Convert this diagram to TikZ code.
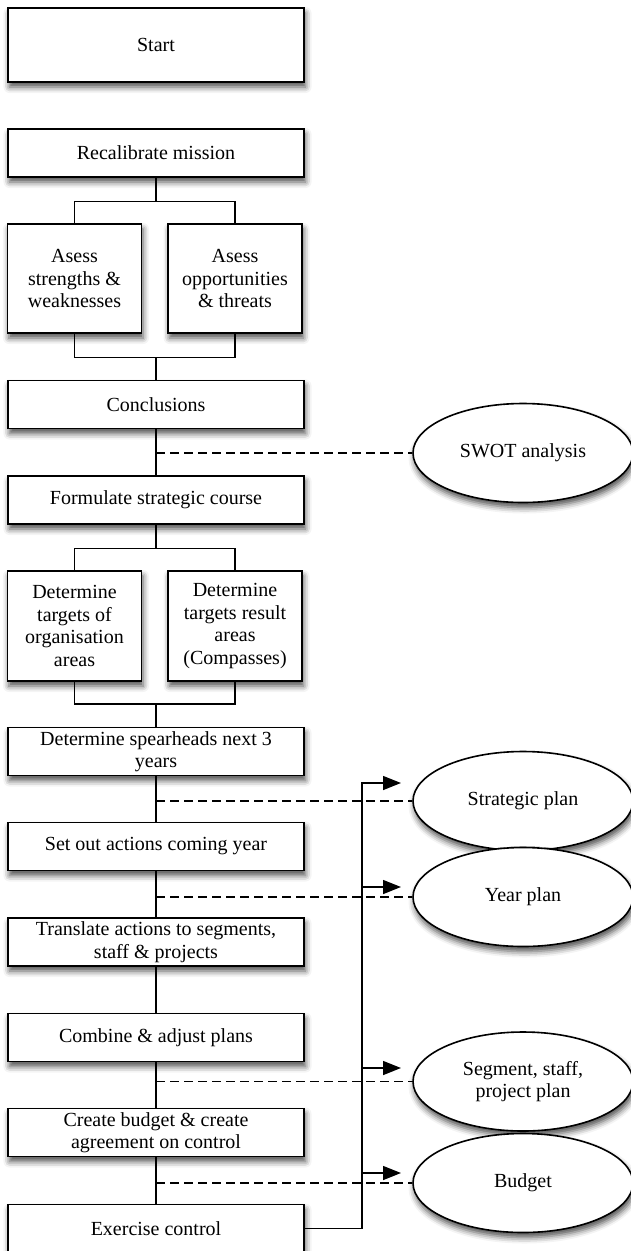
\documentclass[tikz,border=0pt]{standalone}
\usepackage{fontspec}
\setmainfont{Liberation Serif}
\usetikzlibrary{shapes.geometric,arrows.meta,shadows.blur}
\begin{document}
\begin{tikzpicture}[x=1pt,y=-1pt,
  shade/.style={blur shadow={shadow xshift=1.5pt,shadow yshift=-5pt,shadow blur radius=6pt,shadow opacity=70}},
  box/.style={draw=black,line width=1.6pt,fill=white,shade,align=center,inner sep=2pt,
    font=\fontsize{20}{22.5}\selectfont},
  mainbox/.style={box,minimum width=296pt,minimum height=48pt},
  halfbox/.style={box,minimum width=134pt,minimum height=109pt},
  plan/.style={ellipse,draw=black,line width=1.6pt,fill=white,shade,align=center,inner sep=0pt,
    minimum width=220pt,minimum height=99pt,font=\fontsize{20}{22.5}\selectfont},
  link/.style={line width=1.4pt},
  dlink/.style={line width=1.4pt,dash pattern=on 8.5pt off 5.5pt},
  arr/.style={line width=1.4pt,-{Triangle[length=18pt,width=14pt]}}]
\useasboundingbox (0,0) rectangle (631,1251);
% main column
\node[mainbox,minimum height=74pt] (start) at (156,45) {Start};
\node[mainbox] (recal) at (156,153) {Recalibrate mission};
\node[halfbox] (asl) at (74.5,278.5) {Asess\\strengths \&\\weaknesses};
\node[halfbox] (asr) at (235,278.5) {Asess\\opportunities\\\& threats};
\node[mainbox] (concl) at (156,404.5) {Conclusions};
\node[mainbox] (form) at (156,500) {Formulate strategic course};
\node[halfbox,minimum height=110pt] (dtl) at (74.5,626) {Determine\\targets of\\organisation\\areas};
\node[halfbox,minimum height=110pt] (dtr) at (235,626) {Determine\\targets result\\areas\\(Compasses)};
\node[mainbox] (spear) at (156,751.5) {Determine spearheads next 3\\years};
\node[mainbox] (setout) at (156,846.5) {Set out actions coming year};
\node[mainbox] (transl) at (156,942) {Translate actions to segments,\\staff \& projects};
\node[mainbox] (comb) at (156,1037.5) {Combine \& adjust plans};
\node[mainbox] (budg) at (156,1132.5) {Create budget \& create\\agreement on control};
\node[mainbox] (exer) at (156,1228.5) {Exercise control};
% plans
\node[plan] (swot) at (523,453) {SWOT analysis};
\node[plan] (strat) at (523,801) {Strategic plan};
\node[plan] (year) at (523,897) {Year plan};
\node[plan] (seg) at (523,1081.5) {Segment, staff,\\project plan};
\node[plan] (bud) at (523,1183) {Budget};
% tree connectors
\draw[link] (recal.south) -- ++(0,23.5) -| (asl.north);
\draw[link] (recal.south) -- ++(0,23.5) -| (asr.north);
\draw[link] (asl.south) -- ++(0,23.5) -| (concl.north);
\draw[link] (asr.south) -- ++(0,23.5) -| (concl.north);
\draw[link] (concl.south) -- (form.north);
\draw[link] (form.south) -- ++(0,23.5) -| (dtl.north);
\draw[link] (form.south) -- ++(0,23.5) -| (dtr.north);
\draw[link] (dtl.south) -- ++(0,22) -| (spear.north);
\draw[link] (dtr.south) -- ++(0,22) -| (spear.north);
\draw[link] (spear.south) -- (setout.north);
\draw[link] (setout.south) -- (transl.north);
\draw[link] (transl.south) -- (comb.north);
\draw[link] (comb.south) -- (budg.north);
\draw[link] (budg.south) -- (exer.north);
% dashed links
\draw[dlink] (concl.south |- swot.west) -- (swot.west);
\draw[dlink] (spear.south |- strat.west) -- (strat.west);
\draw[dlink] (setout.south |- year.west) -- (year.west);
\draw[dlink] (comb.south |- seg.west) -- (seg.west);
\draw[dlink] (budg.south |- bud.west) -- (bud.west);
% feedback arrows
\coordinate (bus) at (362,783);
\coordinate (t1) at (401,783);
\coordinate (t2) at (401,887);
\coordinate (t3) at (401,1068);
\coordinate (t4) at (401,1173);
\draw[arr] (exer.east) -| (bus) -- (t1);
\draw[arr] (bus |- t2) -- (t2);
\draw[arr] (bus |- t3) -- (t3);
\draw[arr] (bus |- t4) -- (t4);
\end{tikzpicture}
\end{document}
